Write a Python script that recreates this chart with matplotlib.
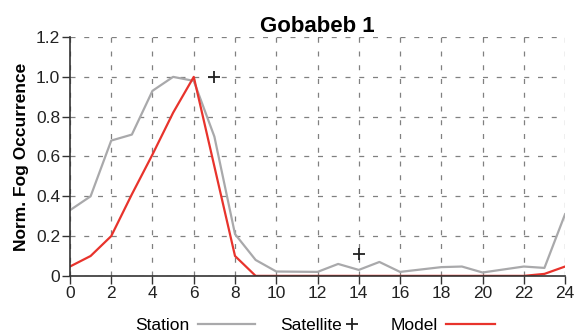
import matplotlib
matplotlib.use("Agg")
import matplotlib.pyplot as plt

plt.rcParams["font.family"] = ["Liberation Sans", "DejaVu Sans"]

# hourly values, normalised
hours = list(range(25))
station = [0.33, 0.40, 0.68, 0.71, 0.93, 1.00, 0.98, 0.70, 0.21, 0.08,
           0.022, 0.021, 0.02, 0.06, 0.03, 0.07, 0.02, 0.032, 0.044, 0.047,
           0.017, 0.032, 0.047, 0.04, 0.31]
model = [0.047, 0.10, 0.20, 0.41, 0.61, 0.82, 1.00, 0.55, 0.10, 0.0,
         0.0, 0.0, 0.0, 0.0, 0.0, 0.0, 0.0, 0.0, 0.0, 0.0,
         0.0, 0.0, 0.0, 0.01, 0.047]
sat_hours = [7, 14]
satellite = [1.0, 0.11]

fig = plt.figure(figsize=(5.76, 3.34), dpi=100)
ax = fig.add_axes([0.1215, 0.174, 0.8595, 0.715])

l_st, = ax.plot(hours, station, color="#a9a9ab", lw=1.6, label="Station")
l_sat, = ax.plot(sat_hours, satellite, ls="none", marker="+", color="#222222",
                 ms=9, mew=1.3, label="Satellite")
l_mod, = ax.plot(hours, model, color="#e8332c", lw=1.6, label="Model")

ax.set_xlim(0, 24)
ax.set_ylim(0, 1.2)
ax.set_xticks(range(0, 25, 2))
ax.set_yticks([0, 0.2, 0.4, 0.6, 0.8, 1.0, 1.2])
ax.set_yticklabels(["0", "0.2", "0.4", "0.6", "0.8", "1.0", "1.2"])
ax.tick_params(labelsize=12.5, color="#333333", length=6, width=1,
               labelcolor="#222222", pad=1)
ax.grid(True, ls=(0, (4, 7)), color="#808080", lw=0.9)
ax.set_axisbelow(True)
for s in ("top", "right"):
    ax.spines[s].set_visible(False)
for s in ("left", "bottom"):
    ax.spines[s].set_color("#333333")
    ax.spines[s].set_linewidth(1.2)

ax.set_title("Gobabeb 1", fontsize=16, fontweight="bold", pad=4)
ax.set_ylabel("Norm. Fog Occurrence", fontsize=12.5, fontweight="bold", labelpad=5)

# one legend per entry, label before the handle
common = dict(loc="center left", frameon=False, markerfirst=False, fontsize=12.5,
              borderpad=0, borderaxespad=0)
fig.legend([l_st], ["Station"], bbox_to_anchor=(0.234, 0.026),
           handlelength=3.3, handletextpad=0.5, **common)
fig.legend([l_sat], ["Satellite"], bbox_to_anchor=(0.486, 0.026),
           handlelength=0.8, handletextpad=0.2, **common)
fig.legend([l_mod], ["Model"], bbox_to_anchor=(0.678, 0.026),
           handlelength=2.8, handletextpad=0.5, **common)

fig.savefig("out.png", dpi=100)
